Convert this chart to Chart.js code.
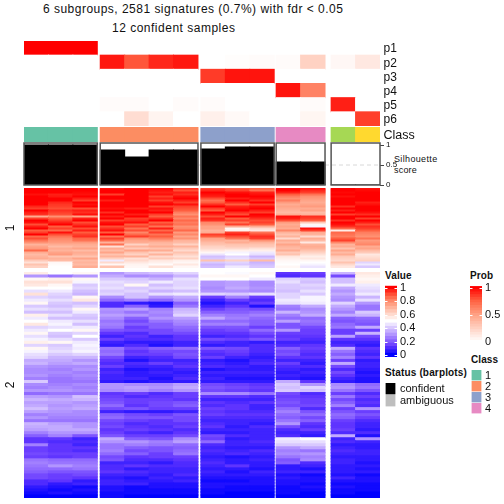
<!DOCTYPE html>
<html>
<head>
<meta charset="utf-8">
<script src="https://cdn.jsdelivr.net/npm/chart.js@4"></script>
<style>
html,body{margin:0;padding:0;background:#fff;width:504px;height:504px;overflow:hidden}
#stage{position:relative;width:504px;height:504px}
canvas{position:absolute;left:0;top:0}
.t{position:absolute;font-family:"Liberation Sans",Arial,sans-serif;color:#111;white-space:nowrap;line-height:1}
.b{font-weight:bold;font-size:10px;letter-spacing:.1px}
</style>
</head>
<body>
<div id="stage">
<div class="t" style="left:43px;top:3px;font-size:12px;letter-spacing:.48px">6 subgroups, 2581 signatures (0.7%) with fdr &lt; 0.05</div>
<div class="t" style="left:112px;top:22px;font-size:12px;letter-spacing:.5px">12 confident samples</div>
<div class="t" style="left:394px;top:155px;font-size:9px;letter-spacing:.35px">Silhouette</div>
<div class="t" style="left:394px;top:166px;font-size:9px;letter-spacing:.2px">score</div>
<div class="t b" style="left:385px;top:271px">Value</div>
<div class="t b" style="left:470px;top:271px">Prob</div>
<div class="t b" style="left:471px;top:355px">Class</div>
<div class="t b" style="left:385px;top:368px;letter-spacing:.15px">Status (barplots)</div>
</div>
<script>
const groupSizes = [3, 4, 3, 2, 2];
const groupGaps = [0.12, 0.12, 0.08, 0.25];
const sampleClasses = [1,1,1, 2,2,2,2, 3,3,3, 4,4, 5,6];
const classColors = ['#66C2A5','#FC8D62','#8DA0CB','#E78AC3','#A6D854','#FFD92F'];
const probLabels = ['p1','p2','p3','p4','p5','p6'];
const probRows = [
 [100,100,100, 0,0,0,0, 0,0,0, 0,0, 0,0],
 [0,0,0, 94,78,90,94, 0,1,2, 2,24, 4,12],
 [0,0,0, 0,0,0,0, 85,95,95, 0,0, 0,0],
 [0,0,0, 0,0,0,0, 0,0,0, 95,62, 0,0],
 [0,0,0, 2,2,0,2, 2,0,0, 0,2, 92,0],
 [0,0,0, 0,18,6,0, 8,3,0, 0,5, 0,84]
];
const silhouetteValues = [1,1,1, 0.875,0.7,0.875,0.875, 0.9,0.95,0.95, 0.575,0.575, 0,0];
const silhouetteTicks = [0, 0.5, 1];
const clusterOneRows = [
 [100,100,100, 98,100,100,94, 92,90,88, 100,98, 100,98],
 [100,100,100, 100,100,98,90, 95,92,85, 100,95, 100,99],
 [100,100,99, 100,100,96,96, 100,98,96, 96,92, 99,100],
 [98,96,98, 92,100,98,94, 98,100,98, 88,84, 100,100],
 [100,97,100, 100,100,92,98, 96,100,100, 82,78, 98,100],
 [100,100,96, 100,100,96,100, 90,96,98, 78,76, 100,100],
 [100,100,92, 96,100,92,96, 84,100,94, 82,74, 100,100],
 [100,95,100, 100,100,98,92, 88,94,100, 76,72, 100,96],
 [100,93,98, 100,100,100,98, 94,88,92, 72,74, 100,98],
 [95,92,100, 100,100,92,92, 100,96,98, 74,76, 94,100],
 [92,90,90, 98,96,98,90, 92,98,100, 72,72, 100,100],
 [100,94,96, 100,100,96,88, 88,100,96, 70,74, 96,100],
 [96,92,94, 94,100,100,82, 100,94,92, 68,68, 100,98],
 [94,90,98, 100,96,92,78, 96,90,100, 72,70, 92,94],
 [72,78,74, 96,100,88,84, 90,100,98, 98,94, 100,100],
 [92,88,96, 100,92,94,80, 96,88,94, 96,92, 100,92],
 [100,92,100, 92,94,100,86, 94,92,90, 90,88, 94,100],
 [98,96,90, 98,98,88,82, 80,84,92, 76,64, 100,96],
 [90,100,94, 100,88,92,84, 78,92,88, 72,52, 98,90],
 [96,88,98, 90,92,84,78, 74,72,72, 74,48, 94,94],
 [100,92,90, 94,84,96,80, 74,52,60, 72,98, 86,92],
 [88,86,96, 98,90,86,86, 70,54,56, 80,92, 55,88],
 [92,98,88, 88,80,92,76, 72,92,84, 70,72, 86,82],
 [100,90,92, 100,86,84,80, 92,96,90, 66,70, 84,80],
 [86,84,94, 84,92,88,74, 88,90,94, 70,60, 82,78],
 [90,80,86, 92,78,82,78, 74,84,92, 60,72, 88,84],
 [84,78,84, 86,74,76,70, 72,70,78, 72,68, 92,76],
 [78,76,76, 70,72,70,68, 68,72,70, 68,56, 80,78],
 [70,72,72, 84,62,68,62, 66,66,66, 74,70, 70,80],
 [74,68,70, 58,70,72,70, 62,64,64, 70,72, 72,72],
 [76,72,74, 72,64,66,64, 60,60,58, 68,70, 66,74],
 [86,70,68, 68,74,72,60, 56,54,54, 72,66, 74,68],
 [72,74,72, 74,66,62,66, 52,48,46, 64,62, 68,64],
 [68,76,70, 66,62,70,62, 45,50,44, 66,58, 72,56],
 [70,66,66, 70,70,60,58, 38,42,36, 56,54, 64,58],
 [72,70,74, 62,58,64,62, 40,44,40, 54,56, 62,60],
 [64,68,68, 46,60,56,54, 66,62,68, 52,52, 60,62],
 [58,52,70, 60,56,54,52, 40,42,36, 51,50, 66,42],
 [66,51,68, 52,53,51,56, 36,40,38, 50,48, 60,46],
 [62,50,72, 66,52,58,52, 38,46,40, 52,45, 56,40]
];
const clusterTwoRows = [
 [55,50,52, 30,36,38,42, 50,49,52, 12,14, 36,56],
 [30,24,30, 34,28,30,36, 52,52,50, 10,12, 16,54],
 [52,54,52, 40,40,36,44, 50,50,46, 42,40, 38,52],
 [58,58,48, 44,42,46,42, 30,32,28, 44,38, 38,54],
 [56,52,40, 42,52,38,42, 30,32,28, 40,42, 46,46],
 [50,50,42, 44,40,42,44, 28,34,30, 40,40, 34,44],
 [44,46,38, 40,42,36,38, 30,30,28, 38,44, 30,42],
 [58,42,36, 42,38,44,46, 42,40,44, 42,40, 34,46],
 [42,40,52, 28,38,30,34, 14,26,14, 42,48, 30,36],
 [46,44,56, 22,26,22,30, 8,14,10, 46,48, 28,44],
 [52,40,38, 10,6,4,20, 4,8,14, 44,46, 42,30],
 [40,38,42, 10,20,6,24, 8,12,4, 26,34, 34,24],
 [44,42,52, 30,32,26,36, 14,18,16, 24,28, 30,24],
 [38,38,46, 28,24,28,38, 20,20,22, 36,30, 26,40],
 [54,44,40, 32,30,26,42, 26,24,26, 26,34, 34,36],
 [46,38,38, 28,20,30,32, 34,26,22, 22,22, 20,22],
 [50,46,44, 24,16,24,28, 22,22,20, 32,24, 18,20],
 [56,48,38, 26,20,20,26, 26,26,20, 18,22, 22,18],
 [42,44,46, 24,14,20,22, 18,18,14, 18,16, 24,34],
 [46,50,52, 18,16,16,20, 14,16,22, 30,14, 14,14],
 [52,40,42, 12,10,16,16, 12,12,16, 14,14, 14,36],
 [44,38,50, 8,12,8,12, 8,10,12, 12,12, 32,16],
 [48,44,40, 14,10,10,12, 16,14,18, 14,10, 12,12],
 [54,52,46, 8,6,6,8, 10,8,6, 8,8, 8,8],
 [42,40,48, 6,10,4,8, 6,8,10, 10,12, 10,6],
 [52,42,46, 24,16,20,22, 18,16,10, 20,14, 34,12],
 [48,44,48, 22,12,16,16, 12,14,10, 16,12, 24,10],
 [44,40,42, 24,14,14,18, 10,12,8, 18,10, 20,8],
 [42,36,36, 16,8,10,16, 14,8,6, 12,12, 26,12],
 [34,34,30, 12,4,8,8, 6,4,8, 8,8, 14,6],
 [36,32,34, 10,10,14,10, 8,6,10, 14,6, 34,8],
 [30,28,28, 14,8,8,12, 10,8,6, 10,10, 16,8],
 [28,26,30, 8,4,6,8, 4,6,6, 8,6, 10,6],
 [28,28,26, 10,6,8,6, 8,8,8, 6,8, 16,4],
 [30,26,28, 8,6,6,8, 6,6,6, 8,6, 12,6],
 [26,24,26, 8,8,4,10, 8,4,4, 6,4, 8,4],
 [40,24,24, 6,4,6,6, 6,6,6, 34,12, 6,4],
 [28,26,28, 30,28,28,32, 16,14,12, 40,30, 28,22],
 [26,28,26, 30,32,30,34, 18,16,14, 38,42, 30,24],
 [30,30,28, 28,30,26,30, 16,14,12, 40,38, 24,18],
 [22,24,24, 12,14,10,14, 28,28,24, 16,10, 14,10],
 [32,30,38, 14,10,12,14, 12,12,10, 14,12, 24,14],
 [36,34,36, 16,14,14,12, 8,8,8, 16,14, 16,10],
 [32,32,30, 18,14,16,18, 12,10,12, 18,14, 20,12],
 [34,30,32, 22,12,16,20, 10,12,8, 16,16, 26,10],
 [38,32,34, 16,18,14,14, 14,12,8, 22,10, 14,30],
 [32,30,28, 8,6,6,8, 12,10,10, 26,18, 18,14],
 [26,28,28, 20,16,14,18, 14,12,12, 22,22, 22,18],
 [30,26,26, 22,18,18,16, 10,10,10, 20,16, 20,14],
 [24,24,24, 16,14,12,16, 8,8,8, 24,20, 14,10],
 [36,32,30, 14,10,12,12, 10,8,6, 30,12, 12,8],
 [34,34,30, 16,12,10,14, 12,6,10, 16,10, 12,8],
 [32,34,34, 12,14,12,10, 8,8,8, 10,14, 14,6],
 [26,30,30, 14,10,8,12, 6,6,8, 8,8, 10,10],
 [20,26,18, 18,14,14,16, 16,10,8, 10,6, 34,4],
 [12,12,8, 34,20,18,28, 14,6,8, 46,50, 8,30],
 [12,10,10, 30,30,26,32, 22,8,10, 44,44, 10,8],
 [26,12,8, 24,26,24,22, 10,8,8, 40,40, 6,6],
 [14,12,12, 24,20,18,20, 8,6,6, 30,34, 8,6],
 [14,12,10, 26,16,18,22, 10,8,10, 26,24, 10,8],
 [16,14,14, 22,20,14,24, 8,10,8, 28,30, 8,8],
 [14,12,14, 16,12,14,14, 6,4,6, 24,26, 6,6],
 [24,22,22, 18,10,10,12, 8,6,8, 18,28, 8,6],
 [26,24,24, 8,8,6,10, 10,6,6, 20,10, 8,4],
 [24,30,26, 10,12,10,10, 8,12,6, 6,8, 6,6],
 [22,22,24, 10,6,8,8, 6,6,4, 6,4, 6,4],
 [20,18,18, 12,10,8,8, 8,4,8, 8,8, 6,6],
 [16,14,16, 8,8,6,10, 6,6,6, 4,2, 4,2],
 [16,14,12, 6,4,8,6, 4,4,4, 6,4, 8,4],
 [10,12,6, 8,6,6,8, 2,2,4, 4,4, 4,4],
 [10,6,8, 8,8,4,4, 4,4,4, 4,2, 2,2],
 [6,4,2, 4,2,4,4, 4,2,2, 2,4, 4,2],
 [4,2,4, 4,2,2,2, 2,2,2, 2,2, 2,2],
 [2,4,2, 2,2,2,2, 2,0,0, 2,0, 2,0],
 [0,0,0, 2,0,0,0, 0,0,0, 0,0, 0,0]
];
const valueLegendSteps = [100,95,90,85,80,75,70,65,60,55,50,45,40,35,30,25,20,15,10,5,0];
const valueLegendTicks = [0, 0.2, 0.4, 0.6, 0.8, 1];
const probLegendSteps = [100,95,90,85,80,75,70,65,60,55,50,45,40,35,30,25,20,15,10,5,0];
const probLegendTicks = [0, 0.5, 1];
const classLegendLabels = ['1','2','3','4'];
const statusLabels = ['confident','ambiguous'];
const statusColors = ['#000000','#BEBEBE'];

const valueStops = [[0,'#0000ff'],[12.5,'#6336ff'],[25,'#9e7bff'],[37.5,'#d0bcff'],[50,'#ffffff'],[62.5,'#ffd0c0'],[75,'#ffa083'],[87.5,'#ff6242'],[100,'#ff0000']];
const probStops = [[0,'#ffffff'],[25,'#ffd0c0'],[50,'#ffa083'],[75,'#ff6242'],[100,'#ff0000']];
function ramp(stops, v) {
  let i = 0;
  while (i < stops.length - 2 && v > stops[i + 1][0]) i++;
  const [a, ca] = stops[i], [b, cb] = stops[i + 1], t = (v - a) / (b - a);
  const ch = (c, k) => parseInt(c.substr(1 + k * 2, 2), 16);
  return 'rgb(' + [0, 1, 2].map(k => Math.round(ch(ca, k) + (ch(cb, k) - ch(ca, k)) * t)).join(',') + ')';
}

const columnX = [];
const groupRanges = [];
{
  let x = 0;
  groupSizes.forEach((n, g) => {
    groupRanges.push([x - 0.5, x + n - 0.5]);
    for (let i = 0; i < n; i++) columnX.push(x + i);
    x += n + (groupGaps[g] || 0);
  });
}
const columnScale = { type: 'linear', display: false, offset: false, min: groupRanges[0][0], max: groupRanges[groupRanges.length - 1][1], grid: { display: false } };
const soloScale = { type: 'linear', display: false, offset: false, min: -0.5, max: 0.5, grid: { display: false } };
const FONT = '"Liberation Sans", Arial, sans-serif';
const AREA_LEFT = 24, AREA_RIGHT = 380;

function rowCells(rows, stops) {
  const cells = [], colors = [];
  rows.forEach((row, r) => row.forEach((v, c) => { cells.push({ x: columnX[c], y: [r, r + 1] }); colors.push(ramp(stops, v)); }));
  return { cells, colors };
}
function addChart(area, axisWidth, datasets, xScale, yScale, plugins) {
  const canvas = document.createElement('canvas');
  canvas.width = 504; canvas.height = 504;
  document.getElementById('stage').appendChild(canvas);
  const [l, t, r, b] = area;
  yScale.afterFit = s => { s.width = axisWidth; };
  return new Chart(canvas, {
    type: 'bar',
    data: { datasets },
    options: {
      responsive: false, animation: false, events: [],
      layout: { padding: { left: yScale.position === 'left' ? l - axisWidth : l, top: t, right: 504 - r - (yScale.position === 'right' ? axisWidth : 0), bottom: 504 - b } },
      plugins: { legend: { display: false }, tooltip: { enabled: false } },
      scales: { x: xScale, y: yScale }
    },
    plugins: plugins || []
  });
}
function barSet(cells, colors, extra) {
  return Object.assign({ data: cells, backgroundColor: colors, borderWidth: 0, inflateAmount: 0.5, barPercentage: 1, categoryPercentage: 1 }, extra || {});
}
function labelledRows(labels, font, padding, nudge) {
  return {
    type: 'linear', position: 'right', reverse: true, min: 0, max: labels.length, display: true,
    grid: { display: false, drawTicks: false }, border: { display: false },
    afterBuildTicks: s => { s.ticks = labels.map((_, i) => ({ value: i + 0.5 + (nudge || 0) })); },
    ticks: { autoSkip: false, padding, color: '#111', font, callback: v => labels[Math.floor(v)] }
  };
}

// probability rows
const prob = rowCells(probRows, probStops);
addChart([AREA_LEFT, 41, AREA_RIGHT, 126], 60, [barSet(prob.cells, prob.colors)], columnScale, labelledRows(probLabels, { family: FONT, size: 12 }, 3.5, 0.07));

// class row
const classCells = rowCells([sampleClasses], probStops);
addChart([AREA_LEFT, 127, AREA_RIGHT, 142], 60, [barSet(classCells.cells, sampleClasses.map(c => classColors[c - 1]))], columnScale, labelledRows(['Class'], { family: FONT, size: 12.5 }, 3.5, 0.06));

// silhouette
const boxes = {
  id: 'groupBoxes',
  afterDatasetsDraw(chart) {
    const { ctx, chartArea: a, scales: { x } } = chart;
    ctx.save(); ctx.strokeStyle = '#555'; ctx.lineWidth = 1.5;
    groupRanges.forEach(([s, e]) => {
      const x0 = x.getPixelForValue(s), x1 = x.getPixelForValue(e);
      ctx.strokeRect(x0, a.top, x1 - x0, a.bottom - a.top);
    });
    ctx.restore();
  }
};
addChart([AREA_LEFT, 143, AREA_RIGHT, 185], 30, [
  barSet(silhouetteValues.map((v, c) => ({ x: columnX[c], y: [0, v] })), '#000000', { order: 1 }),
  { type: 'line', order: 2, data: [{ x: columnScale.min, y: 0.5 }, { x: columnScale.max, y: 0.5 }], borderColor: '#d8d8d8', borderWidth: 1, borderDash: [4, 3], pointRadius: 0 }
], columnScale, {
  type: 'linear', position: 'right', min: 0, max: 1.05, display: true,
  grid: { drawOnChartArea: false, drawTicks: true, tickLength: 4, color: '#444' }, border: { display: false },
  afterBuildTicks: s => { s.ticks = silhouetteTicks.map(value => ({ value })); },
  ticks: { autoSkip: false, padding: 2, color: '#111', font: { family: FONT, size: 8 }, maxRotation: 0, callback: v => String(v) }
}, [boxes]);

// heatmap blocks
function heatAxis(rows, title) {
  return {
    type: 'linear', position: 'left', reverse: true, min: 0, max: rows.length, display: true,
    grid: { display: false, drawTicks: false }, border: { display: false }, ticks: { display: false },
    title: { display: true, text: title, color: '#111', font: { family: FONT, size: 12 }, padding: { top: 3, bottom: 3 } }
  };
}
const heatOne = rowCells(clusterOneRows, valueStops);
addChart([AREA_LEFT, 188, AREA_RIGHT, 268], AREA_LEFT, [barSet(heatOne.cells, heatOne.colors)], columnScale, heatAxis(clusterOneRows, '1'));
const heatTwo = rowCells(clusterTwoRows, valueStops);
addChart([AREA_LEFT, 272, AREA_RIGHT, 498], AREA_LEFT, [barSet(heatTwo.cells, heatTwo.colors)], columnScale, heatAxis(clusterTwoRows, '2'));

// colour-bar legends with short white ticks at both edges of the bar
const edgeTicks = {
  id: 'edgeTicks',
  afterDatasetsDraw(chart) {
    const { ctx, chartArea: a, scales: { y } } = chart;
    ctx.save(); ctx.strokeStyle = '#ffffff'; ctx.lineWidth = 1;
    y.ticks.forEach(t => {
      const p = Math.round(y.getPixelForValue(t.value)) + 0.5;
      ctx.beginPath();
      ctx.moveTo(a.left, p); ctx.lineTo(a.left + 2.5, p);
      ctx.moveTo(a.right - 2.5, p); ctx.lineTo(a.right, p);
      ctx.stroke();
    });
    ctx.restore();
  }
};
function colourBar(area, steps, stops, ticksList, unitStep, unitMax, unitMin) {
  addChart(area, 28, [barSet(
    steps.map(v => ({ x: 0, y: [v / 100 - unitStep, v / 100 + unitStep] })),
    steps.map(v => ramp(stops, v))
  )], soloScale, {
    type: 'linear', position: 'right', min: unitMin, max: unitMax, display: true,
    grid: { display: false, drawTicks: false }, border: { display: false },
    afterBuildTicks: s => { s.ticks = ticksList.map(value => ({ value })); },
    ticks: { autoSkip: false, padding: 3, color: '#111', font: { family: FONT, size: 11 }, callback: v => String(v) }
  }, [edgeTicks]);
}
colourBar([385, 285, 397, 357], valueLegendSteps, valueStops, valueLegendTicks, 0.026, 1.045, -0.03);
colourBar([470, 285, 482, 344], probLegendSteps, probStops, probLegendTicks, 0.026, 1.055, -0.04);

// swatch legends
function swatches(area, labels, colors, axisWidth, padding) {
  addChart(area, axisWidth, [barSet(labels.map((_, i) => ({ x: 0, y: [i, i + 1] })), colors, { borderColor: '#ffffff', borderWidth: 0.6, inflateAmount: 0 })],
    soloScale, labelledRows(labels, { family: FONT, size: 11 }, padding, 0));
}
swatches([471, 370, 482, 414], classLegendLabels, classColors.slice(0, 4), 22, 3);
swatches([385, 383, 396, 407], statusLabels, statusColors, 70, 4);
</script>
</body>
</html>
